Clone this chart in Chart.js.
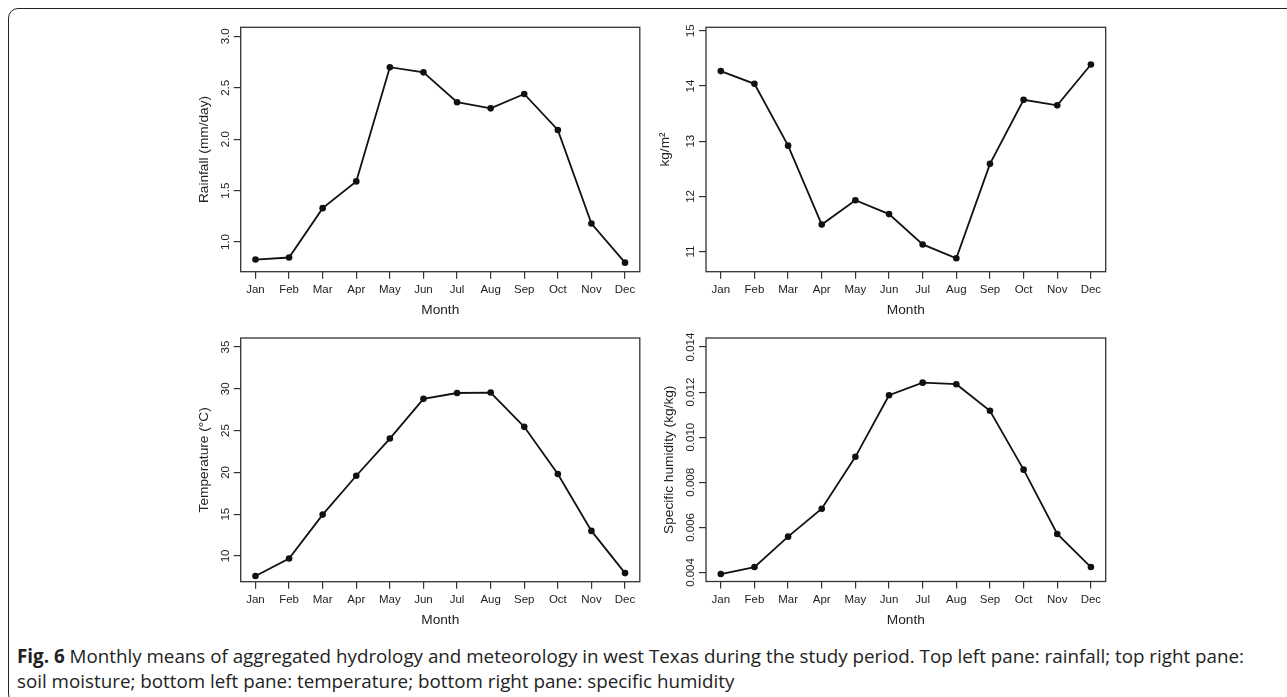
<!DOCTYPE html>
<html>
<head>
<meta charset="utf-8">
<script src="https://cdn.jsdelivr.net/npm/chart.js@4.4.0/dist/chart.umd.min.js"></script>
<style>
  body { margin: 0; background: #fff; width: 1287px; height: 697px; overflow: hidden; position: relative; }
  .frame { position: absolute; left: 8px; top: 8px; width: 1310px; height: 694px; border: 1.5px solid #222; border-radius: 10px; }
  canvas.panel { position: absolute; }
  .caption { position: absolute; left: 17px; top: 644px; font-family: "Open Sans", sans-serif; font-size: 18.8px; line-height: 25px; color: #222; white-space: nowrap; }
  .caption b { font-weight: 700; }
</style>
</head>
<body>
<div class="frame"></div>
<canvas id="rain" class="panel" width="470" height="330" style="left:180px;top:0px"></canvas>
<canvas id="soil" class="panel" width="470" height="330" style="left:650px;top:0px"></canvas>
<canvas id="temp" class="panel" width="470" height="320" style="left:180px;top:320px"></canvas>
<canvas id="hum" class="panel" width="470" height="320" style="left:650px;top:320px"></canvas>
<div class="caption"><b>Fig. 6</b> Monthly means of aggregated hydrology and meteorology in west Texas during the study period. Top left pane: rainfall; top right pane:<br>soil moisture; bottom left pane: temperature; bottom right pane: specific humidity</div>

<script>
// Data
const months = ['Jan', 'Feb', 'Mar', 'Apr', 'May', 'Jun', 'Jul', 'Aug', 'Sep', 'Oct', 'Nov', 'Dec'];

const rainfall = [0.83, 0.85, 1.33, 1.59, 2.70, 2.65, 2.36, 2.30, 2.44, 2.09, 1.18, 0.80];
const soilMoisture = [14.27, 14.04, 12.92, 11.49, 11.93, 11.68, 11.13, 10.88, 12.59, 13.75, 13.65, 14.39];
const temperature = [7.6, 9.7, 14.95, 19.6, 24.05, 28.8, 29.5, 29.55, 25.45, 19.8, 13.0, 7.95];
const humidity = [0.00393, 0.00424, 0.00559, 0.00683, 0.00913, 0.01186, 0.01242, 0.01235, 0.01117, 0.00856, 0.00571, 0.00424];

// y tick values and their labels
const rainTicks = [1.0, 1.5, 2.0, 2.5, 3.0];
const rainTickLabels = ['1.0', '1.5', '2.0', '2.5', '3.0'];
const soilTicks = [11, 12, 13, 14, 15];
const soilTickLabels = ['11', '12', '13', '14', '15'];
const tempTicks = [10, 15, 20, 25, 30, 35];
const tempTickLabels = ['10', '15', '20', '25', '30', '35'];
const humTicks = [0.004, 0.006, 0.008, 0.010, 0.012, 0.014];
const humTickLabels = ['0.004', '0.006', '0.008', '0.010', '0.012', '0.014'];

// axis limits (R style, padded by 4% on each side)
const xLim = [1, 12];
const rainLim = [0.8, 3.0];
const soilLim = [10.8, 14.9];
const tempLim = [8, 35];
const humLim = [0.004, 0.014];

function pad4(lim) {
    const r = lim[1] - lim[0];
    return [lim[0] - 0.04 * r, lim[1] + 0.04 * r];
}

const axisFont = '"Liberation Sans", Arial, sans-serif';

// Draws the plot box and the rotated y tick labels
const boxPlugin = {
    id: 'boxPlugin',
    beforeDatasetsDraw(chart, args, opts) {
        const { ctx, chartArea: a } = chart;
        const y = chart.scales.y;
        ctx.save();
        ctx.strokeStyle = '#333';
        ctx.lineWidth = 1.3;
        ctx.strokeRect(a.left, a.top, a.right - a.left, a.bottom - a.top);
        ctx.fillStyle = '#222';
        ctx.font = '11.5px ' + axisFont;
        ctx.textAlign = 'center';
        ctx.textBaseline = 'middle';
        y.ticks.forEach((t, i) => {
            ctx.save();
            ctx.translate(a.left - 15, y.getPixelForValue(t.value));
            ctx.rotate(-Math.PI / 2);
            ctx.fillText(opts.labels[i], 0, 0);
            ctx.restore();
        });
        ctx.restore();
    }
};

// box = [left, top, right, bottom] of the plot area inside the canvas
function makePanel(id, values, ticks, tickLabels, lim, yTitle, box, yTitleX, xTitleY) {
    const canvas = document.getElementById(id);
    const W = canvas.width, H = canvas.height;
    const xr = pad4(xLim);
    const yr = pad4(lim);

    new Chart(canvas, {
        type: 'line',
        data: {
            datasets: [{
                data: values.map((v, i) => ({ x: i + 1, y: v })),
                borderColor: '#111',
                borderWidth: 1.8,
                pointRadius: 3.3,
                pointBackgroundColor: '#111',
                pointBorderWidth: 0,
                tension: 0,
                clip: false
            }]
        },
        options: {
            responsive: false,
            animation: false,
            events: [],
            layout: { padding: { left: 0, top: box[1], right: W - box[2], bottom: 0 } },
            plugins: {
                legend: { display: false },
                tooltip: { enabled: false },
                boxPlugin: { labels: tickLabels }
            },
            scales: {
                x: {
                    type: 'linear',
                    min: xr[0],
                    max: xr[1],
                    afterBuildTicks: s => { s.ticks = months.map((m, i) => ({ value: i + 1 })); },
                    afterFit: s => { s.height = H - box[3]; },
                    ticks: {
                        autoSkip: false,
                        maxRotation: 0,
                        padding: 4.4,
                        color: '#222',
                        font: { family: axisFont, size: 11.5 },
                        callback: v => months[v - 1]
                    },
                    grid: { drawOnChartArea: false, drawTicks: true, tickLength: 7, color: '#333', lineWidth: 1.2 },
                    border: { display: false },
                    title: {
                        display: true,
                        text: 'Month',
                        color: '#222',
                        font: { family: axisFont, size: 13.7 },
                        padding: { top: 0, bottom: H - xTitleY - 8.22 }
                    }
                },
                y: {
                    type: 'linear',
                    min: yr[0],
                    max: yr[1],
                    afterBuildTicks: s => { s.ticks = ticks.map(v => ({ value: v })); },
                    afterFit: s => { s.width = box[0]; },
                    ticks: { display: false },
                    grid: { drawOnChartArea: false, drawTicks: true, tickLength: 7, color: '#333', lineWidth: 1.2 },
                    border: { display: false },
                    title: {
                        display: true,
                        text: yTitle,
                        color: '#222',
                        font: { family: axisFont, size: 13.7 },
                        padding: { top: yTitleX - 8.22, bottom: 0 }
                    }
                }
            }
        },
        plugins: [boxPlugin]
    });
}

// positions are relative to each canvas
makePanel('rain', rainfall, rainTicks, rainTickLabels, rainLim, 'Rainfall (mm/day)', [60.7, 27.3, 459.8, 271.7], 24, 310);
makePanel('soil', soilMoisture, soilTicks, soilTickLabels, soilLim, 'kg/m\u00B2', [56, 27.3, 455.7, 271.7], 15, 310);
makePanel('temp', temperature, tempTicks, tempTickLabels, tempLim, 'Temperature (\u00B0C)', [60.7, 18, 459.8, 261.7], 24, 300);
makePanel('hum', humidity, humTicks, humTickLabels, humLim, 'Specific humidity (kg/kg)', [56, 18, 455.7, 261.5], 19.3, 300);
</script>
</body>
</html>
